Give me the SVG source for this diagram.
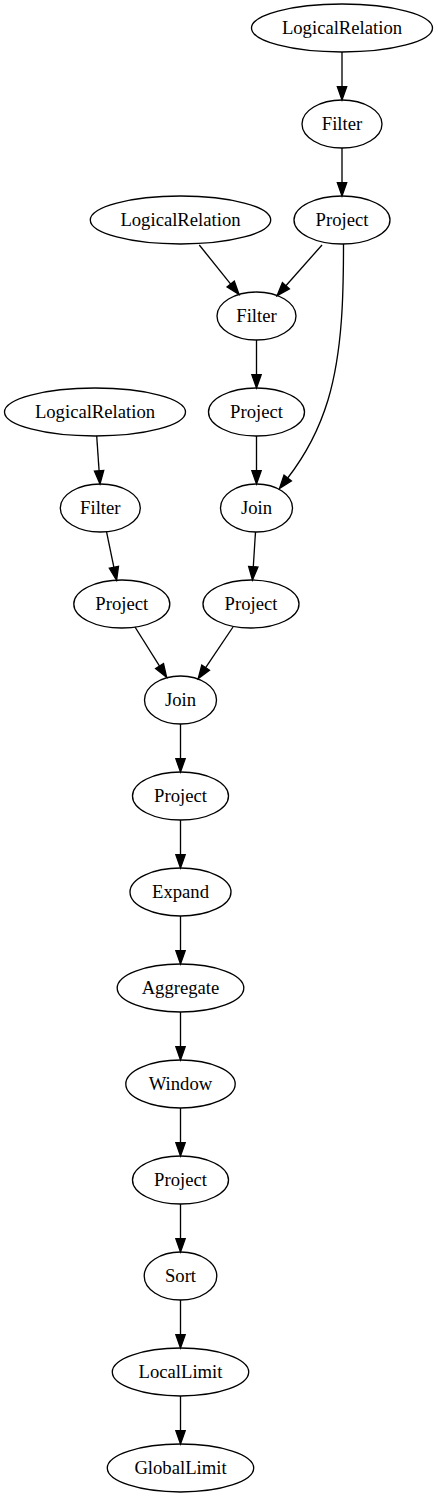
<svg xmlns="http://www.w3.org/2000/svg" width="438" height="1499" viewBox="0 0 438 1499">
<style>
.n ellipse{fill:none;stroke:#000;stroke-width:1.33}
.n text{font-family:"Liberation Serif","Times New Roman",serif;font-size:18.67px;text-anchor:middle;fill:#000}
.e path{fill:none;stroke:#000;stroke-width:1.33;marker-end:url(#arr)}
</style>
<defs>
<marker id="arr" markerUnits="userSpaceOnUse" markerWidth="16" markerHeight="12" refX="0" refY="4.67" orient="auto" overflow="visible">
<polygon points="0,0 13.33,4.67 0,9.33" fill="#000" stroke="#000" stroke-width="1.33"/>
</marker>
</defs>
<rect width="438" height="1499" fill="#fff"/>
<g id="edges" class="e">
<path d="M342,52 L342,86.67"/>
<path d="M342,148 L342,182.67"/>
<path d="M322,245 L285.9,285.7"/>
<path d="M199.3,245 L230.7,284.1"/>
<path d="M343.5,244 C343.5,290 343,350 328,400 C318,433 304,457 287.7,478"/>
<path d="M256.5,340 L256.5,374.67"/>
<path d="M96.7,436 L99.1,470.7"/>
<path d="M256.5,436 L256.5,470.67"/>
<path d="M106.5,531.6 L113.9,567.3"/>
<path d="M255.5,532 L253.3,566.7"/>
<path d="M135,627 L159.55,666.05"/>
<path d="M233,627 L205.65,667.6"/>
<path d="M180.5,724 L180.5,758.67"/>
<path d="M180.5,820 L180.5,854.67"/>
<path d="M180.5,916 L180.5,950.67"/>
<path d="M180.5,1012 L180.5,1046.67"/>
<path d="M180.5,1108 L180.5,1142.67"/>
<path d="M180.5,1204 L180.5,1238.67"/>
<path d="M180.5,1300 L180.5,1334.67"/>
<path d="M180.5,1396 L180.5,1430.67"/>
</g>
<g id="lr1" class="n"><ellipse cx="342" cy="28" rx="90.5" ry="24"/><text x="342" y="34">LogicalRelation</text></g>
<g id="filter1" class="n"><ellipse cx="342" cy="124" rx="40" ry="24"/><text x="342" y="130">Filter</text></g>
<g id="project1" class="n"><ellipse cx="342" cy="220" rx="48" ry="24"/><text x="342" y="226">Project</text></g>
<g id="lr2" class="n"><ellipse cx="180.5" cy="220" rx="90.2" ry="24"/><text x="180.5" y="226">LogicalRelation</text></g>
<g id="filter2" class="n"><ellipse cx="256.5" cy="316" rx="39.5" ry="24"/><text x="256.5" y="322">Filter</text></g>
<g id="project2" class="n"><ellipse cx="256.5" cy="412" rx="48" ry="24"/><text x="256.5" y="418">Project</text></g>
<g id="lr3" class="n"><ellipse cx="95" cy="412" rx="90.5" ry="24"/><text x="95" y="418">LogicalRelation</text></g>
<g id="filter3" class="n"><ellipse cx="100.3" cy="508" rx="40" ry="24"/><text x="100.3" y="514">Filter</text></g>
<g id="join1" class="n"><ellipse cx="256.5" cy="508" rx="36" ry="24"/><text x="256.5" y="514">Join</text></g>
<g id="project3" class="n"><ellipse cx="121.8" cy="604" rx="48" ry="24"/><text x="121.8" y="610">Project</text></g>
<g id="project4" class="n"><ellipse cx="251" cy="604" rx="48" ry="24"/><text x="251" y="610">Project</text></g>
<g id="join2" class="n"><ellipse cx="180.5" cy="700" rx="36" ry="24"/><text x="180.5" y="706">Join</text></g>
<g id="project5" class="n"><ellipse cx="180.5" cy="796" rx="48" ry="24"/><text x="180.5" y="802">Project</text></g>
<g id="expand" class="n"><ellipse cx="180.5" cy="892" rx="50.5" ry="24"/><text x="180.5" y="898">Expand</text></g>
<g id="aggregate" class="n"><ellipse cx="180.5" cy="988" rx="63.3" ry="24"/><text x="180.5" y="994">Aggregate</text></g>
<g id="window" class="n"><ellipse cx="180.5" cy="1084" rx="54.7" ry="24"/><text x="180.5" y="1090">Window</text></g>
<g id="project6" class="n"><ellipse cx="180.5" cy="1180" rx="48" ry="24"/><text x="180.5" y="1186">Project</text></g>
<g id="sort" class="n"><ellipse cx="180.5" cy="1276" rx="36.3" ry="24"/><text x="180.5" y="1282">Sort</text></g>
<g id="locallimit" class="n"><ellipse cx="180.5" cy="1372" rx="68.2" ry="24"/><text x="180.5" y="1378">LocalLimit</text></g>
<g id="globallimit" class="n"><ellipse cx="180.5" cy="1468" rx="73.2" ry="24"/><text x="180.5" y="1474">GlobalLimit</text></g>
</svg>
